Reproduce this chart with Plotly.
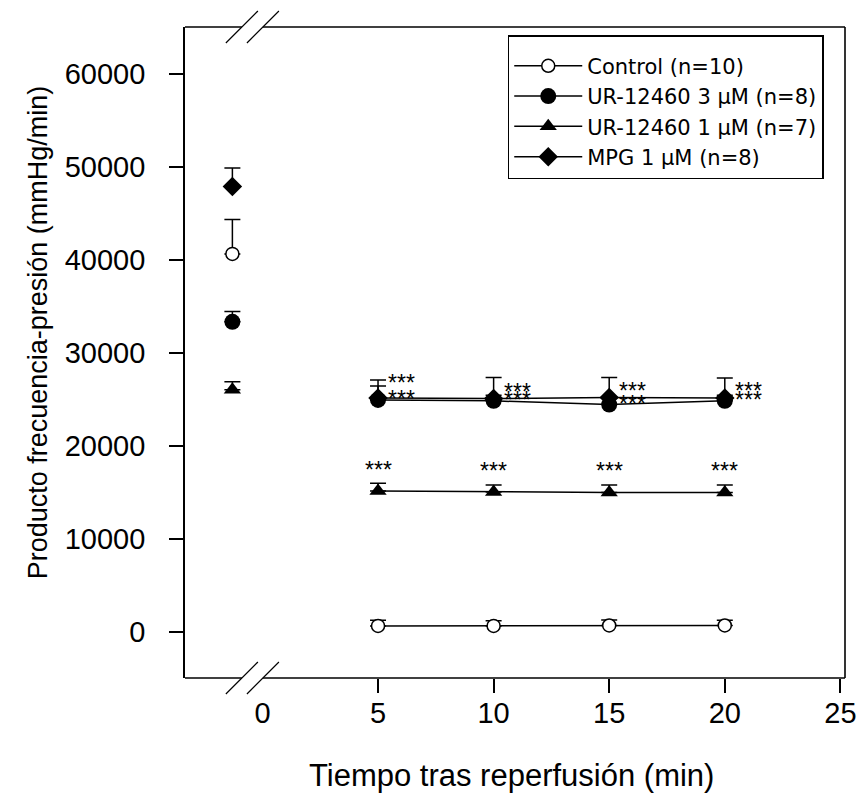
import plotly.graph_objects as go

# ---------------- data ----------------
times = [5, 10, 15, 20]
baseline_x = -1.3  # position of the pre-ischaemia column (axis break)

series_names = ["Control (n=10)", "UR-12460 3 µM (n=8)", "UR-12460 1 µM (n=7)", "MPG 1 µM (n=8)"]

control_base, control_base_sem = 40600, 3700
control_mean = [600, 600, 650, 650]
control_sem = [600, 550, 600, 550]

ur3_base, ur3_base_sem = 33300, 1100
ur3_mean = [24900, 24800, 24400, 24800]
ur3_sem = [1500, 600, 700, 600]

ur1_base, ur1_base_sem = 26000, 850
ur1_mean = [15100, 15000, 14950, 14950]
ur1_sem = [850, 750, 800, 800]

mpg_base, mpg_base_sem = 47850, 2000
mpg_mean = [25100, 25050, 25150, 25100]
mpg_sem = [1950, 2250, 2150, 2150]

significance = ["***", "***", "***", "***"]

x_ticks = [5, 10, 15, 20, 25]
y_ticks = [0, 10000, 20000, 30000, 40000, 50000, 60000]

# ---------------- style ----------------
FONT = "Liberation Sans, Arial, sans-serif"
LEG_FONT = "DejaVu Sans, Verdana, sans-serif"
XR = [-3.35, 25.2]
YR = [-5000, 65000]
GAP = [-0.89, 0.02]

styles = [
    dict(symbol="circle", size=13, color="white", line=dict(color="black", width=1.5)),
    dict(symbol="circle", size=16, color="black", line=dict(color="black", width=0)),
    dict(symbol="triangle-up", size=15, color="black", line=dict(color="black", width=0)),
    dict(symbol="diamond", size=15, color="black", line=dict(color="black", width=0)),
]
bases = [(control_base, control_base_sem), (ur3_base, ur3_base_sem),
         (ur1_base, ur1_base_sem), (mpg_base, mpg_base_sem)]
means = [control_mean, ur3_mean, ur1_mean, mpg_mean]
sems = [control_sem, ur3_sem, ur1_sem, mpg_sem]

fig = go.Figure()

for name, st, (b, bs), m, s in zip(series_names, styles, bases, means, sems):
    err = dict(type="data", symmetric=False, array=s, arrayminus=[0] * len(s),
               color="black", thickness=1.5, width=8)
    fig.add_trace(go.Scatter(
        x=times, y=m, mode="lines+markers", name=name, legendgroup=name,
        line=dict(color="black", width=1.5), marker=st, error_y=err,
    ))
    fig.add_trace(go.Scatter(
        x=[baseline_x], y=[b], mode="markers", showlegend=False, legendgroup=name,
        marker=st,
        error_y=dict(type="data", symmetric=False, array=[bs], arrayminus=[0],
                     color="black", thickness=1.5, width=8),
    ))

# dummy trace for the extra "0" label axis
fig.add_trace(go.Scatter(x=[None], y=[None], xaxis="x2", showlegend=False))

annotations = []
star_font = dict(family=FONT, size=23, color="black")
# stars for UR-12460 1 µM (above points)
for t, m, s, txt in zip(times, ur1_mean, ur1_sem, significance):
    annotations.append(dict(x=t, y=m, xref="x", yref="y", text=txt, showarrow=False,
                            font=star_font, xanchor="center", yanchor="middle", yshift=21))
# stars for MPG (upper row) and UR-12460 3 µM (lower row), to the right
upper_shift = [15, 7, 7, 7]
for t, m, txt, ys in zip(times, mpg_mean, significance, upper_shift):
    annotations.append(dict(x=t, y=m, xref="x", yref="y", text=txt, showarrow=False,
                            font=star_font, xanchor="left", yanchor="middle", xshift=8, yshift=ys))
for t, m, txt in zip(times, ur3_mean, significance):
    annotations.append(dict(x=t, y=m, xref="x", yref="y", text=txt, showarrow=False,
                            font=star_font, xanchor="left", yanchor="middle", xshift=8, yshift=1))

# axis titles
annotations.append(dict(x=0.494, y=-0.1505, xref="paper", yref="paper",
                        text="Tiempo tras reperfusión (min)", showarrow=False,
                        font=dict(family=FONT, size=31, color="black"),
                        xanchor="center", yanchor="middle"))
annotations.append(dict(x=-0.2227, y=0.531, xref="paper", yref="paper",
                        text="Producto frecuencia-presión (mmHg/min)", showarrow=False,
                        textangle=-90, font=dict(family=FONT, size=27, color="black"),
                        xanchor="center", yanchor="middle"))

shapes = []
LW = 1.6
# right frame
shapes.append(dict(type="line", xref="paper", yref="paper", x0=1, x1=1, y0=0, y1=1,
                   line=dict(color="black", width=LW)))
for yv in (0, 1):
    shapes.append(dict(type="line", xref="x", yref="paper", x0=XR[0], x1=GAP[0], y0=yv, y1=yv,
                       line=dict(color="black", width=LW)))
    shapes.append(dict(type="line", xref="x", yref="paper", x0=GAP[1], x1=XR[1], y0=yv, y1=yv,
                       line=dict(color="black", width=LW)))
    for gx in GAP:
        shapes.append(dict(type="line", xref="x", yref="paper",
                           xsizemode="pixel", xanchor=gx, x0=-16, x1=16,
                           ysizemode="pixel", yanchor=yv, y0=-16, y1=16,
                           line=dict(color="black", width=1.2)))

fig.update_layout(
    width=860, height=806,
    margin=dict(l=185, r=15, t=27, b=128, autoexpand=False),
    paper_bgcolor="white", plot_bgcolor="white",
    font=dict(family=FONT, color="black"),
    showlegend=True,
    legend=dict(x=0.489, y=0.9877, xanchor="left", yanchor="top",
                bordercolor="black", borderwidth=1.5, bgcolor="white",
                font=dict(family=LEG_FONT, size=21), itemwidth=68,
                title=dict(text=" ", font=dict(size=7)),
                tracegroupgap=0),
    xaxis=dict(range=XR, showgrid=False, zeroline=False, showline=False, automargin=False,
               tickvals=x_ticks, ticks="outside", ticklen=14, tickwidth=1.5, tickcolor="black",
               tickfont=dict(family=FONT, size=29), ticklabelstandoff=-5),
    xaxis2=dict(range=XR, overlaying="x", anchor="y", side="bottom", showgrid=False,
                automargin=False,
                zeroline=False, showline=False, tickvals=[0], ticks="outside", ticklen=14,
                tickcolor="rgba(0,0,0,0)", tickfont=dict(family=FONT, size=29),
                ticklabelstandoff=-5),
    yaxis=dict(range=YR, showgrid=False, zeroline=False, showline=True, linecolor="black",
               automargin=False,
               linewidth=LW, tickvals=y_ticks, ticktext=[str(v) for v in y_ticks],
               ticks="outside", ticklen=14, tickwidth=1.5, tickcolor="black",
               tickfont=dict(family=FONT, size=29), ticklabelstandoff=18),
    annotations=annotations,
    shapes=shapes,
)

fig.write_html("out.html")
